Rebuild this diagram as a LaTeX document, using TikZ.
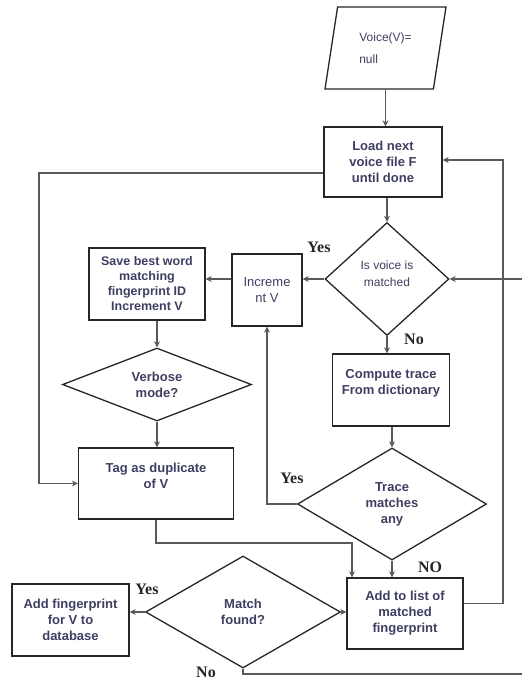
\documentclass[tikz,border=0pt]{standalone}
\usepackage{fontspec}
\setmainfont{Liberation Sans}
\newfontfamily\yesfont{Liberation Serif}
\usetikzlibrary{shapes.geometric,arrows.meta}
\definecolor{ink}{RGB}{62,62,98}
\definecolor{wire}{RGB}{90,90,90}

\begin{document}
\begin{tikzpicture}[x=1pt,y=-1pt,
    every node/.style={text=ink,align=center,inner sep=1pt,
      font=\fontsize{13}{16}\selectfont\bfseries},
    box/.style={draw=black!85,line width=1.3pt,rectangle},
    test/.style={draw=black!85,line width=1.3pt,diamond,aspect=1.6},
    flow/.style={draw=wire,line width=1.5pt,-{Stealth[length=6pt,width=6pt]}},
    wireline/.style={draw=wire,line width=1.5pt},
    answer/.style={text=black!85,font=\yesfont\fontsize{16}{16}\selectfont\bfseries}]
    \useasboundingbox (0,0) rectangle (522,683);

    % steps
    \node[trapezium,trapezium left angle=69,trapezium right angle=111,
      trapezium stretches body,draw=black!85,line width=1.3pt,
      minimum width=121,minimum height=82,
      font=\fontsize{12}{22}\selectfont,align=left] (voice) at (385.5,48) {Voice(V)=\\null};
    \node[box,minimum width=118,minimum height=70] (load) at (383,162) {Load next\\voice file F\\until done};
    \node[test,minimum width=124,minimum height=113,font=\fontsize{12}{17}\selectfont] (ismatched) at (387,279) {Is voice is\\matched\\[-6pt]\mbox{}};
    \node[box,minimum width=70,minimum height=72,font=\fontsize{13}{16}\selectfont] (incr) at (267,290) {Increme\\nt V};
    \node[box,minimum width=116,minimum height=72,font=\fontsize{12.5}{15}\selectfont\bfseries] (save) at (147,284) {Save best word\\matching\\fingerprint ID\\Increment V};
    \node[test,minimum width=189,minimum height=73] (verbose) at (157,384.5) {Verbose\\mode?};
    \node[box,minimum width=155,minimum height=71] (dup) at (156,483.5) {Tag as duplicate\\of V\\\mbox{}};
    \node[box,minimum width=117,minimum height=72] (compute) at (391,390) {Compute trace\\From dictionary\\\mbox{}};
    \node[test,minimum width=189,minimum height=112] (anymatch) at (392,504) {Trace\\matches\\any};
    \node[box,minimum width=116,minimum height=71] (addlist) at (405,613.5) {Add to list of\\matched\\fingerprint};
    \node[test,minimum width=195,minimum height=112] (found) at (243,612) {Match\\found?};
    \node[box,minimum width=117,minimum height=72] (addfp) at (70.5,620) {Add fingerprint\\for V to\\database};

    % answers
    \node[answer] (yesmatched) at (319,247) {Yes};
    \node[answer] (nomatched) at (414,339) {No};
    \node[answer] (yesany) at (292,478) {Yes};
    \node[answer] (noany) at (430,567) {NO};
    \node[answer] (yesfound) at (147,589) {Yes};
    \node[answer] (nofound) at (206,672) {No};

    % free ends and bends
    \coordinate (rail) at (503,160);
    \coordinate (inright) at (522,279);
    \coordinate (outright) at (522,674);
    \coordinate (bend) at (352,543);

    % connectors
    \draw[flow] (voice.south) -- (voice.south |- load.north);
    \draw[flow] (load.south -| ismatched.north) -- (ismatched.north);
    \draw[flow] (inright) -- (ismatched.east);
    \draw[flow] (ismatched.west) -- (ismatched.west -| incr.east);
    \draw[flow] (incr.west |- ismatched.west) -- (save.east |- ismatched.west);
    \draw[flow] (save.south -| verbose.north) -- (verbose.north);
    \draw[flow] (verbose.south) -- (verbose.south |- dup.north);
    \draw[flow] ([yshift=-11pt]load.west) -| ([xshift=-39pt]dup.west) -- (dup.west);
    \draw[flow] (ismatched.south) -- (ismatched.south |- compute.north);
    \draw[flow] (compute.south -| anymatch.north) -- (anymatch.north);
    \draw[flow] (anymatch.west) -| (incr.south);
    \draw[flow] (anymatch.south) -- (anymatch.south |- addlist.north);
    \draw[flow] (dup.south) |- (bend) -- (bend |- addlist.north);
    \draw[flow] ([yshift=10pt]addlist.east) -| (rail) -- (rail -| load.east);
    \draw[flow] (found.east) -- (found.east -| addlist.west);
    \draw[flow] (found.west) -- (found.west -| addfp.east);
    \draw[wireline] (found.south) |- (outright);
  \end{tikzpicture}
\end{document}
